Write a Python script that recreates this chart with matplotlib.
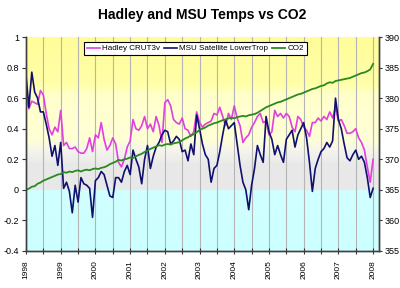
import matplotlib
matplotlib.use("Agg")
import matplotlib.pyplot as plt
import numpy as np
from matplotlib.colors import LinearSegmentedColormap

plt.rcParams['font.family'] = ['Liberation Sans', 'DejaVu Sans']

# ---- data (monthly, Jan 1998 .. Jan 2008) ----
start_year = 1998
hadley = [0.60, 0.53, 0.58, 0.57, 0.56, 0.65, 0.62, 0.50, 0.40, 0.36, 0.41, 0.38,
          0.52, 0.29, 0.31, 0.27, 0.27, 0.28, 0.25, 0.24, 0.24, 0.27, 0.34, 0.25,
          0.36, 0.34, 0.44, 0.33, 0.26, 0.29, 0.34, 0.30, 0.18, 0.15, 0.20, 0.28,
          0.32, 0.46, 0.40, 0.39, 0.42, 0.48, 0.40, 0.43, 0.38, 0.48, 0.42, 0.31,
          0.57, 0.59, 0.55, 0.46, 0.44, 0.43, 0.47, 0.40, 0.39, 0.35, 0.38, 0.51,
          0.44, 0.41, 0.43, 0.44, 0.45, 0.50, 0.49, 0.54, 0.48, 0.42, 0.50, 0.46,
          0.55, 0.47, 0.42, 0.31, 0.34, 0.36, 0.41, 0.44, 0.48, 0.50, 0.44, 0.45,
          0.36, 0.38, 0.52, 0.48, 0.50, 0.47, 0.50, 0.48, 0.41, 0.38, 0.48, 0.46,
          0.41, 0.39, 0.35, 0.44, 0.44, 0.47, 0.45, 0.48, 0.46, 0.51, 0.47, 0.54,
          0.45, 0.46, 0.42, 0.37, 0.37, 0.38, 0.40, 0.34, 0.31, 0.26, 0.15, 0.05,
          0.20]
msu = [0.75, 0.54, 0.77, 0.64, 0.60, 0.51, 0.51, 0.43, 0.34, 0.22, 0.29, 0.16,
       0.31, 0.01, 0.05, -0.01, -0.15, 0.03, -0.08, 0.08, 0.04, 0.03, 0.01, -0.18,
       0.06, 0.08, 0.12, 0.10, 0.03, -0.04, -0.05, 0.08, 0.08, 0.05, 0.12, 0.16,
       0.10, 0.26, 0.20, 0.15, 0.04, 0.20, 0.29, 0.14, 0.22, 0.28, 0.31, 0.36,
       0.39, 0.38, 0.30, 0.32, 0.35, 0.33, 0.25, 0.26, 0.19, 0.30, 0.23, 0.49,
       0.40, 0.30, 0.23, 0.20, 0.05, 0.14, 0.16, 0.25, 0.36, 0.46, 0.40, 0.42,
       0.44, 0.30, 0.16, 0.05, 0.00, -0.13, 0.03, 0.14, 0.29, 0.23, 0.18, 0.48,
       0.38, 0.33, 0.23, 0.29, 0.23, 0.18, 0.33, 0.36, 0.39, 0.28, 0.36, 0.40,
       0.44, 0.34, 0.18, -0.01, 0.14, 0.20, 0.25, 0.27, 0.31, 0.28, 0.32, 0.60,
       0.46, 0.40, 0.30, 0.21, 0.19, 0.23, 0.26, 0.20, 0.22, 0.18, 0.08, -0.05,
       0.01]
co2 = [365.0, 365.2, 365.5, 365.6, 366.0, 366.2, 366.5, 366.7, 366.9, 367.1, 367.3, 367.5,
       367.6, 367.9, 367.8, 368.0, 367.9, 368.1, 368.2, 368.0, 368.2, 368.3, 368.2, 368.4,
       368.5, 368.4, 368.6, 368.7, 368.9, 369.2, 369.4, 369.6, 369.9, 369.8, 370.0, 370.1,
       370.3, 370.2, 370.5, 370.7, 370.9, 371.2, 371.4, 371.7, 371.9, 372.1, 372.3, 372.2,
       372.4, 372.5, 372.4, 372.6, 372.7, 372.8, 373.1, 373.4, 373.6, 373.9, 374.1, 374.4,
       374.8, 375.0, 375.2, 375.5, 375.7, 375.9, 376.0, 376.2, 376.4, 376.5, 376.7, 376.8,
       376.7, 376.9, 377.0, 377.1, 377.0, 377.2, 377.3, 377.4, 377.6, 377.9, 378.2, 378.5,
       378.7, 378.9, 379.1, 379.3, 379.4, 379.6, 379.8, 380.0, 380.2, 380.4, 380.6, 380.7,
       380.9, 381.1, 381.3, 381.5, 381.6, 381.8, 382.0, 382.1, 382.4, 382.6, 382.5, 382.8,
       382.9, 383.0, 383.1, 383.2, 383.3, 383.5, 383.7, 383.9, 384.1, 384.2, 384.4, 384.7,
       385.6]
year_labels = [str(y) for y in range(1998, 2009)]
temp_ticks = [1, 0.8, 0.6, 0.4, 0.2, 0, -0.2, -0.4]
co2_ticks = [355, 360, 365, 370, 375, 380, 385, 390]

x = start_year + np.arange(len(hadley)) / 12.0

fig = plt.figure(figsize=(4.0, 2.88), dpi=100)
ax = fig.add_axes([0.065, 0.1285, 0.8825, 0.743])

# background bands
grad_stops = [
    (0.0, (0.80, 1.00, 1.00)),
    (0.285, (0.82, 1.00, 1.00)),
    (0.286, (0.91, 0.91, 0.91)),
    (0.40, (0.91, 0.91, 0.91)),
    (0.47, (0.96, 0.96, 0.93)),
    (0.52, (1.00, 1.00, 0.84)),
    (0.73, (1.00, 1.00, 0.80)),
    (0.78, (1.00, 1.00, 0.66)),
    (1.0, (1.00, 0.99, 0.60)),
]
cmap = LinearSegmentedColormap.from_list('bg', grad_stops)
grad = np.linspace(0, 1, 512).reshape(-1, 1)
ax.imshow(grad, aspect='auto', cmap=cmap, origin='lower',
          extent=[1998, 2008.17, -0.4, 1.0], zorder=0)

ax.set_xlim(1998, 2008.17)
ax.set_ylim(-0.4, 1.0)

# vertical grid at half years
for gx in np.arange(1998.5, 2008.1, 0.5):
    ax.axvline(gx, color='#b4b4b4', lw=0.8, zorder=1)

l1, = ax.plot(x, hadley, color='#e040e0', lw=1.2, zorder=3, label='Hadley CRUT3v')
l2, = ax.plot(x, msu, color='#10106e', lw=1.2, zorder=4, label='MSU Satellite LowerTrop')

ax2 = ax.twinx()
ax2.set_ylim(355, 390)
l3, = ax2.plot(x, co2, color='#2a8a20', lw=1.3, label='CO2')

ax.set_yticks(temp_ticks)
ax.set_yticklabels([('%g' % t) for t in temp_ticks], fontsize=6.5)
ax2.set_yticks(co2_ticks)
ax2.set_yticklabels([str(t) for t in co2_ticks], fontsize=6.5)

ax.set_xticks(range(1998, 2009))
ax.set_xticklabels(year_labels, rotation=90, fontsize=6)
ax.set_xticks(np.arange(1998.5, 2008.1, 1.0), minor=True)
ax.tick_params(axis='x', which='both', direction='inout', length=5, width=0.8, colors='#333333', pad=4)
ax.tick_params(axis='y', direction='out', length=3, width=0.8, colors='#333333', pad=2)
ax2.tick_params(axis='y', direction='out', length=2.5, width=0.8, colors='#333333', pad=1.5)
for a in (ax, ax2):
    a.tick_params(labelcolor='black')
    for s in a.spines.values():
        s.set_color('#404040')
        s.set_linewidth(1.0)
    a.spines['top'].set_visible(False)

leg = ax2.legend(handles=[l1, l2, l3], loc='upper center', ncol=3, fontsize=5.8,
                 bbox_to_anchor=(0.48, 0.975), frameon=True, fancybox=False,
                 handlelength=1.6, handletextpad=0.3, columnspacing=0.5,
                 borderpad=0.3, borderaxespad=0.0)
leg.get_frame().set_edgecolor('black')
leg.get_frame().set_linewidth(0.8)
leg.get_frame().set_facecolor('white')
leg.get_frame().set_alpha(1)

fig.text(0.505, 0.947, 'Hadley and MSU Temps vs CO2', ha='center', va='center',
         fontsize=10, fontweight='bold')

fig.savefig('out.png', dpi=100)
